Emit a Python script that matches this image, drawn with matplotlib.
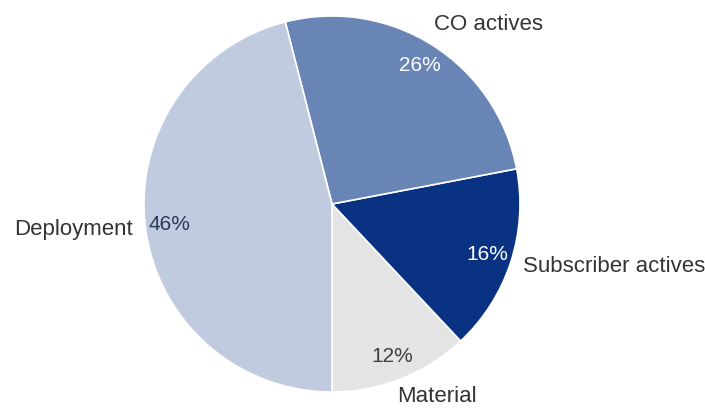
import matplotlib
matplotlib.use("Agg")
import matplotlib.pyplot as plt

categories = ["Material", "Subscriber actives", "CO actives", "Deployment"]
shares = [12, 16, 26, 46]
colors = ["#e4e4e4", "#0a3282", "#6885b6", "#c0cbdf"]
pct_colors = ["#404040", "#ffffff", "#ffffff", "#2c3a58"]

plt.rcParams['font.family'] = ['Liberation Sans', 'DejaVu Sans']

W, H = 705, 413
fig = plt.figure(figsize=(W / 100, H / 100), dpi=100)
ax = fig.add_axes([0, 0, 1, 1])
cx, cy, R = 332, 204, 188

wedges, texts, autotexts = ax.pie(
    shares, labels=categories, colors=colors, startangle=270,
    counterclock=True, autopct='%d%%', pctdistance=0.87, labeldistance=1.07,
    wedgeprops=dict(edgecolor='white', linewidth=1.2),
    textprops=dict(fontsize=16, color='#333333'),
    radius=1, center=(0, 0), frame=False)
for t, c in zip(autotexts, pct_colors):
    t.set_color(c)
    t.set_fontsize(15)
# nudge labels slightly like the original
mx, my = texts[0].get_position()
texts[0].set_position((mx - 0.05, my - 0.03))
cx_, cy_ = texts[2].get_position()
texts[2].set_position((cx_ - 0.03, cy_ + 0.05))

ax.set_xlim(-cx / R, (W - cx) / R)
ax.set_ylim(-(H - cy) / R, cy / R)
ax.set_aspect('equal')
ax.axis('off')

fig.savefig("out.png", dpi=100)
